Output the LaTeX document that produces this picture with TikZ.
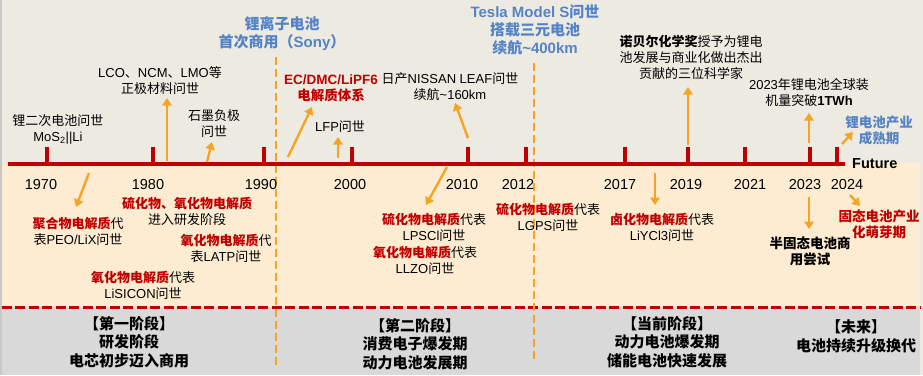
\documentclass[tikz,border=0pt]{standalone}
\usepackage{fontspec}
\setmainfont{Noto Sans CJK SC}
\newfontfamily\latf{Liberation Sans}
\newcommand{\lat}[1]{{\latf #1}}
\usetikzlibrary{arrows.meta}
\definecolor{bgtop}{RGB}{237,234,226}
\definecolor{bgpeach}{RGB}{253,236,209}
\definecolor{bggray}{RGB}{217,217,217}
\definecolor{cred}{RGB}{192,0,0}
\definecolor{corange}{RGB}{245,165,35}
\definecolor{cblue}{RGB}{84,132,198}
\definecolor{cborder}{RGB}{200,200,200}
\tikzset{
  txt/.style={align=center, inner sep=0pt, font=\fontsize{13}{16}\selectfont},
  bluetxt/.style={align=center, inner sep=0pt, text=cblue, font=\fontsize{15}{18}\selectfont\bfseries},
  redtxt/.style={align=center, inner sep=0pt, text=cred, font=\fontsize{13.5}{16.5}\selectfont\bfseries},
  yeartxt/.style={inner sep=0pt, font=\fontsize{14.5}{17}\selectfont\latf},
  stagetxt/.style={align=center, inner sep=0pt, font=\fontsize{15}{18.5}\selectfont\bfseries},
  arr/.style={draw=corange, line width=2.4pt, -{Triangle[length=7.5pt,width=9.5pt]}},
  tickmark/.style={draw=cred, line width=4.5pt},
  vdash/.style={draw=corange, line width=2.8pt, dash pattern=on 8pt off 4pt},
  hdash/.style={draw=cred, line width=3pt, dash pattern=on 10pt off 3.5pt},
}
\newcommand{\rb}[1]{{\bfseries\color{cred}#1}}
\begin{document}
\begin{tikzpicture}[x=1pt,y=-1pt]
\useasboundingbox (0,0) rectangle (923,375);
% backgrounds
\fill[bgtop] (0,0) rectangle (923,375);
\fill[bgpeach] (1.5,163) rectangle (920,307);
\fill[bggray] (1.5,307) rectangle (920,375);
\fill[cborder] (0,0) rectangle (1.5,375);
% dashed separators
\draw[hdash] (1.5,307) -- (920,307);
\draw[vdash] (276,57) -- (276,368);
\draw[vdash] (534,63) -- (534,363);
% axis
\draw[draw=cred, line width=4pt] (8,164) -- (845,164);
\foreach \x in {47,153,264,352,468,526,625,688,745,810,837}
  \draw[tickmark] (\x,147) -- (\x,164);
\node[inner sep=0pt, anchor=west, font=\fontsize{14.5}{17}\selectfont\latf\bfseries] (future) at (852,164) {Future};
% years
\node[yeartxt] (y1970) at (41,185) {1970};
\node[yeartxt] (y1980) at (148,185) {1980};
\node[yeartxt] (y1990) at (261,185) {1990};
\node[yeartxt] (y2000) at (350,185) {2000};
\node[yeartxt] (y2010) at (462,185) {2010};
\node[yeartxt] (y2012) at (518,185) {2012};
\node[yeartxt] (y2017) at (620,185) {2017};
\node[yeartxt] (y2019) at (686,185) {2019};
\node[yeartxt] (y2021) at (750,185) {2021};
\node[yeartxt] (y2023) at (805,185) {2023};
\node[yeartxt] (y2024) at (847,185) {2024};
% upper texts
\node[txt] (t1) at (58,129.5) {锂二次电池问世\\\lat{MoS\textsubscript{2}||Li}};
\node[txt] (t2) at (160,81) {\lat{LCO}、\lat{NCM}、\lat{LMO}等\\正极材料问世};
\node[txt] (t3) at (214,123.5) {石墨负极\\问世};
\node[bluetxt] (b1) at (282,34) {锂离子电池\\首次商用（\lat{Sony}）};
\node[redtxt] (r1) at (331,88.5) {\lat{EC/DMC/LiPF6}\\电解质体系};
\node[txt] (t4) at (340,127) {\lat{LFP}问世};
\node[txt] (t5) at (450,86.5) {日产\lat{NISSAN LEAF}问世\\续航\lat{\textasciitilde160km}};
\node[bluetxt] (b2) at (535,30) {\lat{Tesla Model S}问世\\搭载三元电池\\续航\lat{\textasciitilde400km}};
\node[txt] (t6) at (691,57.5) {\textbf{诺贝尔化学奖}授予为锂电\\池发展与商业化做出杰出\\贡献的三位科学家};
\node[txt] (t7) at (809,92.5) {\lat{2023}年锂电池全球装\\机量突破\textbf{\lat{1TWh}}};
\node[bluetxt, font=\fontsize{13.5}{15.5}\selectfont\bfseries] (b3) at (879,130.5) {锂电池产业\\成熟期};
% lower texts
\node[txt] (d1) at (78,231) {\rb{聚合物电解质}代\\表\lat{PEO/LiX}问世};
\node[txt] (d2) at (187,211) {\rb{硫化物、氧化物电解质}\\进入研发阶段};
\node[txt] (d3) at (226,248) {\rb{氧化物电解质}代\\表\lat{LATP}问世};
\node[txt] (d4) at (143,285) {\rb{氧化物电解质}代表\\\lat{LiSICON}问世};
\node[txt] (d5) at (434,227) {\rb{硫化物电解质}代表\\\lat{LPSCl}问世};
\node[txt] (d6) at (425,260) {\rb{氧化物电解质}代表\\\lat{LLZO}问世};
\node[txt] (d7) at (548,217) {\rb{硫化物电解质}代表\\\lat{LGPS}问世};
\node[txt] (d8) at (662,227) {\rb{卤化物电解质}代表\\\lat{LiYCl3}问世};
\node[txt, font=\fontsize{13.5}{15.5}\selectfont\bfseries] (d9) at (810,251.5) {半固态电池商\\用尝试};
\node[redtxt, font=\fontsize{13.5}{16}\selectfont\bfseries] (d10) at (879,224) {固态电池产业\\化萌芽期};
% stage texts
\node[stagetxt] (s1) at (129,342) {【第一阶段】\\研发阶段\\电芯初步迈入商用};
\node[stagetxt] (s2) at (415,344) {【第二阶段】\\消费电子爆发期\\动力电池发展期};
\node[stagetxt] (s3) at (667,342) {【当前阶段】\\动力电池爆发期\\储能电池快速发展};
\node[stagetxt] (s4) at (856,336.5) {【未来】\\电池持续升级换代};
% arrow coordinates
\coordinate (a1s) at (167,161); \coordinate (a1e) at (167,98);
\coordinate (a2s) at (207,162); \coordinate (a2e) at (212,142);
\coordinate (a3s) at (288,157); \coordinate (a3e) at (312,107);
\coordinate (a4s) at (338,158); \coordinate (a4e) at (338,137);
\coordinate (a5s) at (468,138); \coordinate (a5e) at (455,103);
\coordinate (a6s) at (688,145); \coordinate (a6e) at (688,87);
\coordinate (a7s) at (809,143); \coordinate (a7e) at (809,113);
\coordinate (a8s) at (842,144); \coordinate (a8e) at (853,132);
\coordinate (b1s) at (89,173);  \coordinate (b1e) at (76,207);
\coordinate (b2s) at (447,167); \coordinate (b2e) at (426,205);
\coordinate (b3s) at (655,173); \coordinate (b3e) at (655,205);
\coordinate (b4s) at (809,197); \coordinate (b4e) at (809,229);
\coordinate (b5s) at (850,195); \coordinate (b5e) at (860,206);
\foreach \n in {a1,a2,a3,a4,a5,a6,a7,a8,b1,b2,b3,b4,b5}
  \draw[arr] (\n s) -- (\n e);
\end{tikzpicture}
\end{document}
